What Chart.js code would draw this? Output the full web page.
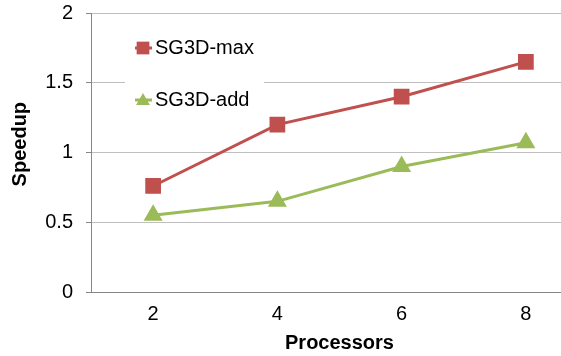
<!DOCTYPE html>
<html>
<head>
<meta charset="utf-8">
<script src="https://cdn.jsdelivr.net/npm/chart.js@4/dist/chart.umd.min.js"></script>
<style>
  html, body { margin: 0; padding: 0; background: #fff; overflow: hidden; }
  #wrap { width: 600px; height: 356px; }
</style>
</head>
<body>
<div id="wrap"><canvas id="myChart" width="600" height="356"></canvas></div>
<script>
// data
const processors = ['2', '4', '6', '8'];
const sgMax = [0.76, 1.2, 1.4, 1.65];
const sgAdd = [0.55, 0.65, 0.9, 1.07];
const yTicks = [0, 0.5, 1, 1.5, 2];

const red = '#C0504D';
const green = '#9BBB59';
const font = 'Liberation Sans, Arial, sans-serif';

// legend sits inside the plot area on a white box, like the Excel original
const insideLegend = {
    id: 'insideLegend',
    afterDatasetsDraw(chart) {
        const ctx = chart.ctx;
        ctx.save();
        ctx.fillStyle = '#fff';
        ctx.fillRect(125, 26, 139, 94);
        const rows = [48, 100];
        chart.data.datasets.forEach((ds, i) => {
            const y = rows[i];
            ctx.strokeStyle = ds.borderColor;
            ctx.lineWidth = 3;
            ctx.beginPath();
            ctx.moveTo(135, y);
            ctx.lineTo(152, y);
            ctx.stroke();
            ctx.fillStyle = ds.backgroundColor;
            Chart.helpers.drawPoint(ctx, {
                pointStyle: ds.pointStyle,
                radius: ds.pointRadius,
                rotation: 0,
                borderWidth: 0
            }, 143, i === 1 ? y + 1 : y);
            ctx.fillStyle = '#000';
            ctx.font = '20px ' + font;
            ctx.textBaseline = 'middle';
            ctx.fillText(ds.label, 155, y);
        });
        ctx.restore();
    }
};

const ctx = document.getElementById('myChart').getContext('2d');
new Chart(ctx, {
    type: 'line',
    data: {
        labels: processors,
        datasets: [{
            label: 'SG3D-max',
            data: sgMax,
            borderColor: red,
            backgroundColor: red,
            borderWidth: 3,
            pointStyle: 'rect',
            pointRadius: 9,
            pointHoverRadius: 9
        }, {
            label: 'SG3D-add',
            data: sgAdd,
            borderColor: green,
            backgroundColor: green,
            borderWidth: 3,
            pointStyle: 'triangle',
            pointRadius: 8,
            pointHoverRadius: 8
        }]
    },
    options: {
        responsive: false,
        animation: false,
        layout: { padding: { top: 0, right: 12, bottom: 0, left: 0 } },
        plugins: {
            legend: { display: false },
            tooltip: { enabled: false }
        },
        scales: {
            x: {
                offset: true,
                grid: { display: false, drawTicks: false },
                border: { display: true, color: '#868686', width: 1 },
                ticks: { color: '#000', font: { family: font, size: 20 }, padding: 10 },
                title: {
                    display: true, text: 'Processors', color: '#000',
                    font: { family: font, size: 20, weight: 'bold' },
                    padding: { top: 0, bottom: 1 }
                },
                afterFit: s => { s.height = 64; s.paddingLeft = 0; s.paddingRight = 0; }
            },
            y: {
                min: 0,
                max: 2,
                afterBuildTicks: s => { s.ticks = yTicks.map(v => ({ value: v })); },
                grid: { color: '#BFBFBF', lineWidth: 1, tickLength: 5, tickColor: '#868686' },
                border: { display: true, color: '#868686', width: 1 },
                ticks: {
                    color: '#000', font: { family: font, size: 20 }, padding: 13,
                    callback: v => String(v)
                },
                title: {
                    display: true, text: '   Speedup', color: '#000',
                    font: { family: font, size: 20, weight: 'bold' },
                    padding: { top: 8, bottom: 0 }
                },
                afterFit: s => { s.width = 91; s.paddingTop = 13; s.paddingBottom = 0; }
            }
        }
    },
    plugins: [insideLegend]
});
</script>
</body>
</html>
